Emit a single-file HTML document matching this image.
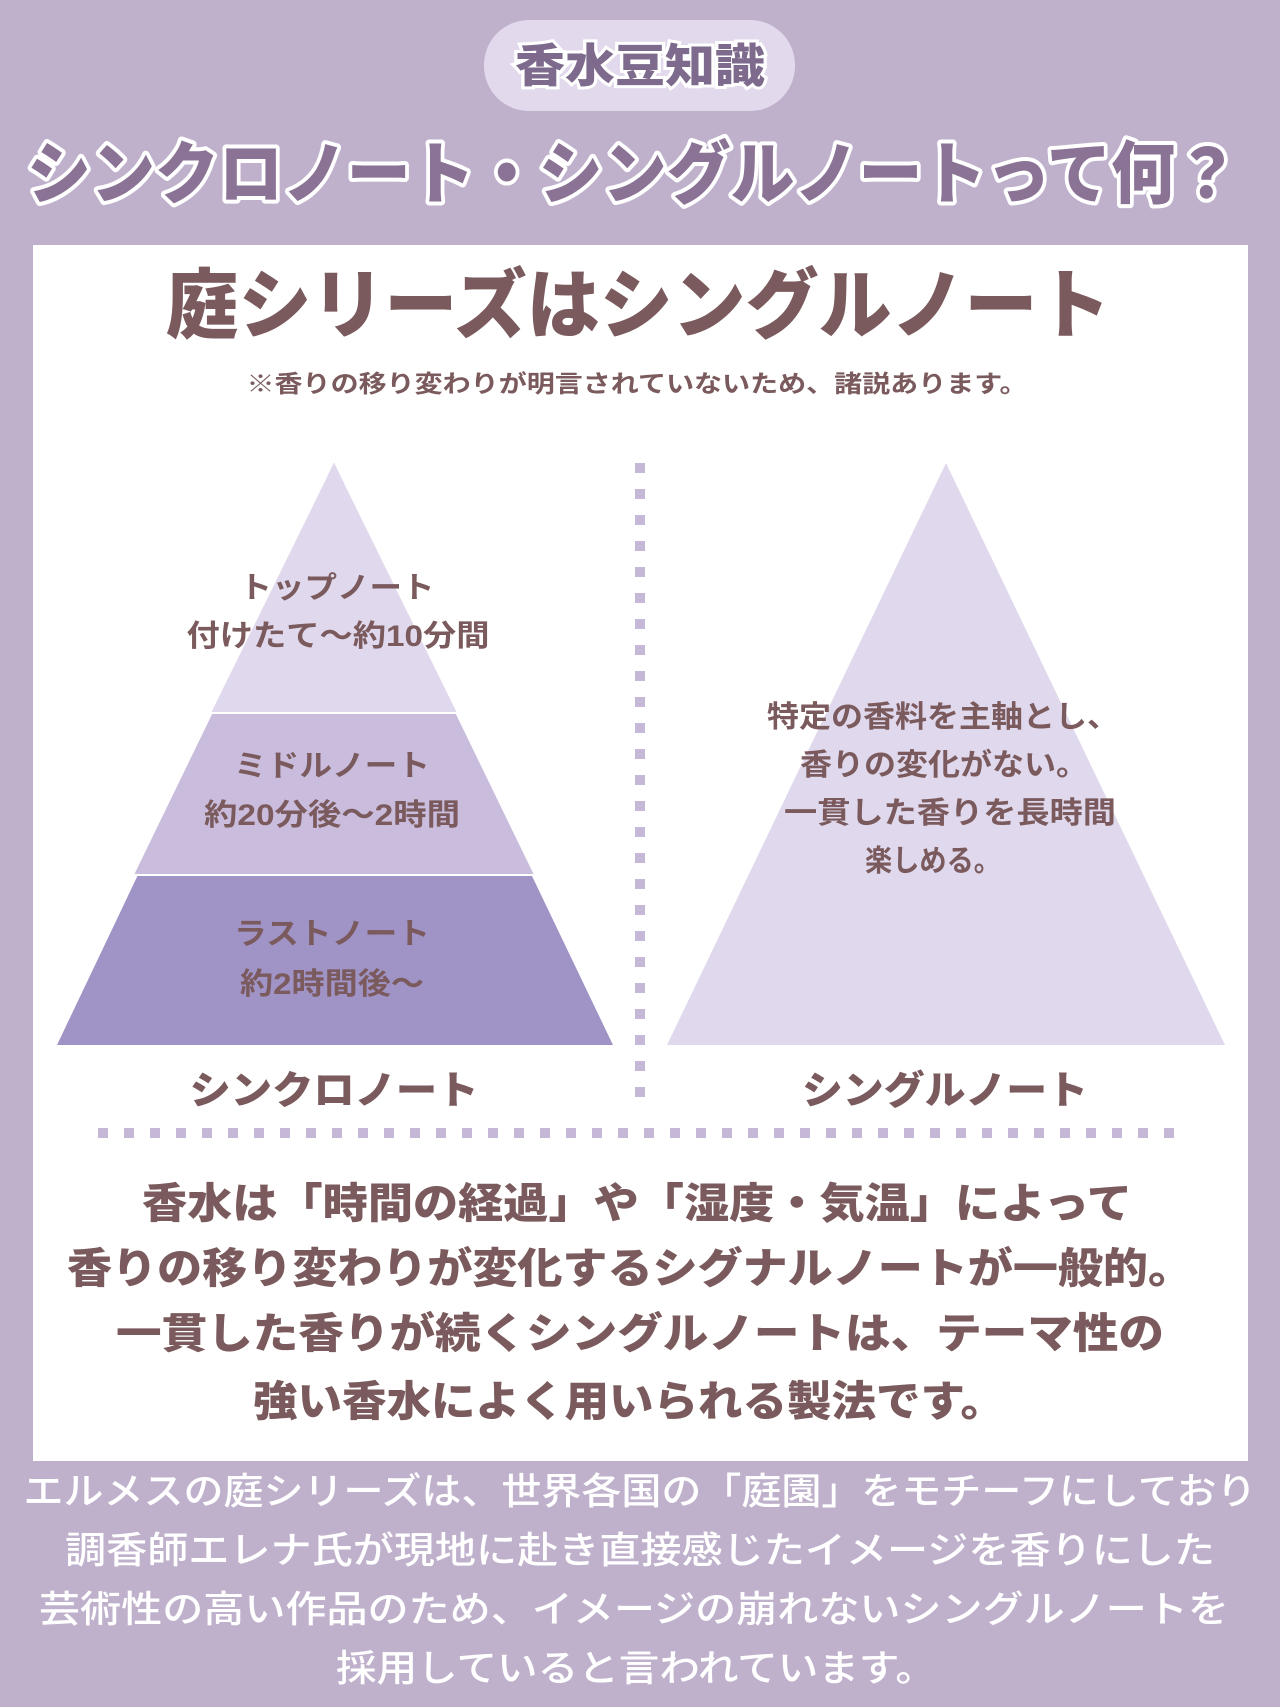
<!DOCTYPE html>
<html><head><meta charset="utf-8">
<style>
html,body{margin:0;padding:0;background:#bfb1cc;}
svg{display:block;}
text{font-family:"Liberation Sans","Noto Sans CJK JP",sans-serif;}
</style></head>
<body>
<svg width="1280" height="1707" viewBox="0 0 1280 1707" xmlns="http://www.w3.org/2000/svg">
<rect width="1280" height="1707" fill="#bfb1cc"/>
<rect x="484" y="20" width="311" height="91" rx="45" fill="#e2d9ec"/>
<text x="640" y="82" font-size="46" font-weight="900" text-anchor="middle" fill="#7d6a8c" stroke="#fff" stroke-width="6" paint-order="stroke" textLength="250" lengthAdjust="spacingAndGlyphs">香水豆知識</text>
<text x="633" y="198" font-size="68" font-weight="900" text-anchor="middle" fill="#8a7394" stroke="#fff" stroke-width="8" paint-order="stroke" stroke-linejoin="round" textLength="1212" lengthAdjust="spacingAndGlyphs">シンクロノート・シングルノートって何？</text>
<rect x="33" y="245" width="1215" height="1216" fill="#fff"/>
<text x="638" y="332" font-size="76" font-weight="900" text-anchor="middle" fill="#7a5a5c" textLength="945" lengthAdjust="spacingAndGlyphs">庭シリーズはシングルノート</text>
<text x="637" y="392" font-size="24" font-weight="700" text-anchor="middle" fill="#7a5a5c" textLength="781" lengthAdjust="spacingAndGlyphs">※香りの移り変わりが明言されていないため、諸説あります。</text>
<polygon points="334,463 57,1045 613,1045" fill="#a093c6"/>
<polygon points="334,463 134,875 534,875" fill="#c9bcdc"/>
<polygon points="334,463 211,713 457,713" fill="#e0d8ec"/>
<line x1="211" y1="713" x2="457" y2="713" stroke="#fff" stroke-width="2"/>
<line x1="134" y1="875" x2="534" y2="875" stroke="#fff" stroke-width="2"/>
<polygon points="946,463 667,1045 1225,1045" fill="#e0d8ec"/>
<line x1="640" y1="463" x2="640" y2="1112" stroke="#c5b8d6" stroke-width="10" stroke-dasharray="10 16"/>
<line x1="98" y1="1133" x2="1186" y2="1133" stroke="#c5b8d6" stroke-width="10" stroke-dasharray="10 16"/>
<g font-size="30" font-weight="700" text-anchor="middle" fill="#7a5a5c" lengthAdjust="spacingAndGlyphs">
<text x="337" y="598" textLength="195" lengthAdjust="spacingAndGlyphs">トップノート</text>
<text x="338" y="646" textLength="303" lengthAdjust="spacingAndGlyphs">付けたて〜約10分間</text>
<text x="332" y="776" textLength="196" lengthAdjust="spacingAndGlyphs">ミドルノート</text>
<text x="332" y="825" textLength="256" lengthAdjust="spacingAndGlyphs">約20分後〜2時間</text>
<text x="332" y="944" textLength="196" lengthAdjust="spacingAndGlyphs">ラストノート</text>
<text x="332" y="994" textLength="184" lengthAdjust="spacingAndGlyphs">約2時間後〜</text>
<text x="943" y="727" textLength="352" lengthAdjust="spacingAndGlyphs">特定の香料を主軸とし、</text>
<text x="944" y="775" textLength="288" lengthAdjust="spacingAndGlyphs">香りの変化がない。</text>
<text x="950" y="823" textLength="332" lengthAdjust="spacingAndGlyphs">一貫した香りを長時間</text>
<text x="933" y="871" textLength="136" lengthAdjust="spacingAndGlyphs">楽しめる。</text>
</g>
<g font-size="39" font-weight="900" text-anchor="middle" fill="#7a5a5c">
<text x="334" y="1104" textLength="289" lengthAdjust="spacingAndGlyphs">シンクロノート</text>
<text x="945" y="1104" textLength="286" lengthAdjust="spacingAndGlyphs">シングルノート</text>
</g>
<g font-size="42" font-weight="900" text-anchor="middle" fill="#7a5a5c">
<text x="637" y="1218" textLength="990" lengthAdjust="spacingAndGlyphs">香水は「時間の経過」や「湿度・気温」によって</text>
<text x="630" y="1283" textLength="1126" lengthAdjust="spacingAndGlyphs">香りの移り変わりが変化するシグナルノートが一般的。</text>
<text x="640" y="1348" textLength="1048" lengthAdjust="spacingAndGlyphs">一貫した香りが続くシングルノートは、テーマ性の</text>
<text x="629" y="1416" textLength="752" lengthAdjust="spacingAndGlyphs">強い香水によく用いられる製法です。</text>
</g>
<g font-size="37" font-weight="500" text-anchor="middle" fill="#fff">
<text x="640" y="1504" textLength="1233" lengthAdjust="spacingAndGlyphs">エルメスの庭シリーズは、世界各国の「庭園」をモチーフにしており</text>
<text x="640" y="1563" textLength="1150" lengthAdjust="spacingAndGlyphs">調香師エレナ氏が現地に赴き直接感じたイメージを香りにした</text>
<text x="634" y="1622" textLength="1190" lengthAdjust="spacingAndGlyphs">芸術性の高い作品のため、イメージの崩れないシングルノートを</text>
<text x="636" y="1681" textLength="600" lengthAdjust="spacingAndGlyphs">採用していると言われています。</text>
</g>
</svg>
</body></html>
